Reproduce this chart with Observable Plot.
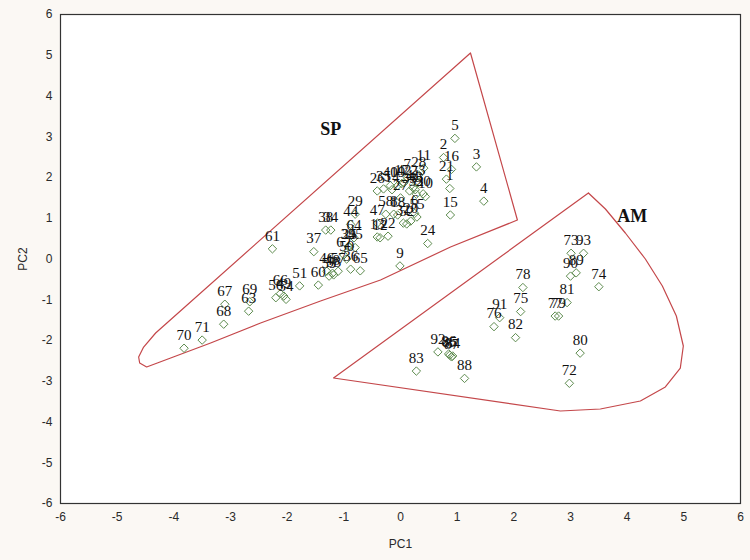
<!DOCTYPE html>
<html><head><meta charset="utf-8">
<script src="https://cdn.jsdelivr.net/npm/d3@7"></script>
<script src="https://cdn.jsdelivr.net/npm/@observablehq/plot@0.6"></script>
<style>body{margin:0;background:#fbf8f4;}</style>
</head><body><div id="chart"></div>
<script>
// SP group scores
const spIds = [1,2,3,4,5,6,7,8,9,10,11,12,13,14,15,16,17,18,19,20,21,22,23,24,25,26,27,28,29,30,31,32,33,34,35,36,37,38,39,40,41,42,43,44,45,46,47,48,49,50,51,52,53,54,55,56,57,58,59,60,61,62,63,64,65,66,67,68,69,70,71];
const spPC1 = [0.87,0.76,1.34,1.47,0.96,0.25,0.12,-0.12,-0.01,0.44,0.41,-0.36,-0.41,-0.15,0.88,0.90,0.02,-0.05,-0.05,0.18,0.81,-0.22,0.31,0.48,-0.90,-0.41,0.00,0.32,-0.80,0.40,0.05,0.28,0.16,-1.23,-0.30,-0.88,-1.53,-1.32,-0.92,-0.18,0.22,0.06,0.26,-0.88,-0.80,-1.30,-0.41,-1.20,-2.06,-0.95,-1.78,0.11,-1.18,-2.02,0.29,-2.20,-1.10,-0.26,-1.26,-1.45,-2.26,-1.00,-2.68,-0.82,-0.71,-2.12,-3.10,-3.12,-2.66,-3.82,-3.50];
const spPC2 = [1.73,2.49,2.26,1.42,2.96,1.12,2.00,1.10,-0.17,1.53,2.23,0.52,0.54,1.70,1.08,2.20,1.85,1.08,1.80,0.93,1.96,0.56,1.87,0.38,0.30,1.67,1.50,2.06,1.10,1.60,0.88,1.59,1.67,0.71,1.72,-0.25,0.18,0.71,0.30,1.80,1.75,1.87,1.70,0.85,0.28,-0.30,0.88,-0.35,-0.91,0.00,-0.66,0.86,-0.39,-0.99,1.03,-0.95,-0.30,1.10,-0.42,-0.64,0.25,0.10,-1.28,0.52,-0.29,-0.85,-1.11,-1.60,-1.05,-2.19,-1.99];
// AM group scores
const amIds = [72,73,74,75,76,77,78,79,80,81,82,83,84,85,86,87,88,89,90,91,92,93];
const amPC1 = [2.98,3.01,3.50,2.12,1.65,2.73,2.16,2.79,3.17,2.94,2.03,0.28,0.92,0.87,0.85,0.90,1.13,3.10,3.00,1.75,0.66,3.23];
const amPC2 = [-3.05,0.14,-0.68,-1.29,-1.66,-1.40,-0.70,-1.40,-2.31,-1.07,-1.93,-2.75,-2.38,-2.36,-2.33,-2.40,-2.93,-0.34,-0.42,-1.44,-2.28,0.14];
// group outlines (hand-drawn enclosures)
const spHullX = [1.235,2.063,0.882,-0.353,-1.411,-2.469,-3.351,-4.056,-4.480,-4.603,-4.621,-4.533,-4.321,1.235];
const spHullY = [5.055,0.957,0.294,-0.515,-1.031,-1.571,-2.061,-2.429,-2.650,-2.552,-2.405,-2.160,-1.816,5.055];
const amHullX = [3.316,3.616,3.968,4.321,4.621,4.868,4.991,4.938,4.674,4.233,3.527,2.822,-1.182,3.316];
const amHullY = [1.620,1.227,0.638,-0.000,-0.663,-1.399,-2.135,-2.675,-3.141,-3.485,-3.681,-3.730,-2.920,1.620];
// group names
const groupNames = ["SP","AM"];
const groupX = [-1.23,4.09];
const groupY = [3.19,1.06];
// ticks
const xTicks = [-6,-5,-4,-3,-2,-1,0,1,2,3,4,5,6];
const yTicks = [-6,-5,-4,-3,-2,-1,0,1,2,3,4,5,6];

const pts = spIds.map((id,i)=>({id, x: spPC1[i], y: spPC2[i]}))
  .concat(amIds.map((id,i)=>({id, x: amPC1[i], y: amPC2[i]})));
const spHull = spHullX.map((x,i)=>({x, y: spHullY[i]}));
const amHull = amHullX.map((x,i)=>({x, y: amHullY[i]}));
const groups = groupNames.map((n,i)=>({n, x: groupX[i], y: groupY[i]}));

const chart = Plot.plot({
  width: 750, height: 560,
  marginLeft: 60, marginRight: 10, marginTop: 14, marginBottom: 57,
  style: {background: "#fbf8f4", fontFamily: "'Liberation Sans', Arial, sans-serif", fontSize: "12px", color: "#2a2a2a"},
  x: {domain: [-6, 6]},
  y: {domain: [-6, 6]},
  marks: [
    Plot.frame({fill: "white"}),
    Plot.line(spHull, {x: "x", y: "y", stroke: "#c4474a", strokeWidth: 1.2, curve: "linear"}),
    Plot.line(amHull, {x: "x", y: "y", stroke: "#c4474a", strokeWidth: 1.2, curve: "linear"}),
    Plot.dot(pts, {x: "x", y: "y", symbol: "diamond2", r: 3.8, stroke: "#5d8b4e", strokeWidth: 1, fill: "none"}),
    Plot.text(pts, {x: "x", y: "y", text: "id", dy: -13, fontFamily: "'Liberation Serif', 'Times New Roman', serif", fontSize: 15, fill: "#111"}),
    Plot.text(groups, {x: "x", y: "y", text: "n", fontFamily: "'Liberation Serif', 'Times New Roman', serif", fontSize: 18, fontWeight: "bold", fill: "#111"}),
    Plot.axisX({ticks: xTicks, tickSize: 0, tickPadding: 9, tickFormat: d => String(d), label: "PC1", labelAnchor: "center", labelArrow: "none", labelOffset: 44, fontSize: 12}),
    Plot.axisY({ticks: yTicks, tickSize: 0, tickPadding: 8, tickFormat: d => String(d), label: "PC2", labelAnchor: "center", labelArrow: "none", labelOffset: 42, fontSize: 12}),
    Plot.frame({stroke: "#333", strokeWidth: 1.2})
  ]
});
document.getElementById("chart").appendChild(chart);
</script>
</body></html>
